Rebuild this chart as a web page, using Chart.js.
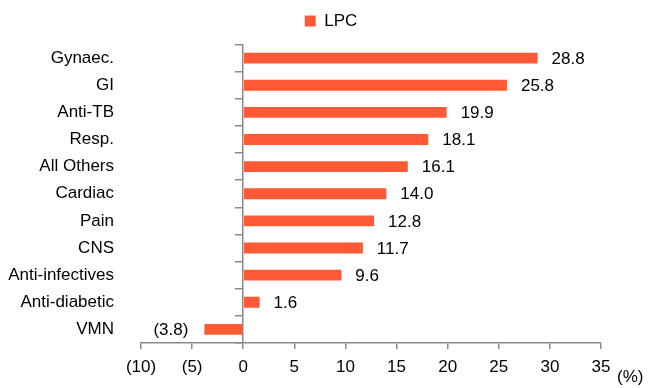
<!DOCTYPE html>
<html>
<head>
<meta charset="utf-8">
<script src="https://cdn.jsdelivr.net/npm/chart.js@4"></script>
<style>
    html, body { margin: 0; padding: 0; background: #fff; }
    #wrap { width: 662px; height: 388px; }
</style>
</head>
<body>
<div id="wrap"><canvas id="lpcChart"></canvas></div>
<script>
// Chart data
const categories = ['Gynaec.', 'GI', 'Anti-TB', 'Resp.', 'All Others', 'Cardiac', 'Pain', 'CNS', 'Anti-infectives', 'Anti-diabetic', 'VMN'];
const lpcValues = [28.8, 25.8, 19.9, 18.1, 16.1, 14.0, 12.8, 11.7, 9.6, 1.6, -3.8];
const xTicks = [-10, -5, 0, 5, 10, 15, 20, 25, 30, 35];

const axisGrey = '#8a8a8a';
const barColor = '#FF5A35';
const fontFamily = '"Liberation Sans", Arial, sans-serif';
const fontSize = 17;

function fmt(v, digits) {
    const s = Math.abs(v).toFixed(digits);
    return v < 0 ? '(' + s + ')' : s;
}

// value labels next to each bar + the (%) unit label
const labelPlugin = {
    id: 'barLabels',
    afterDatasetsDraw(chart) {
        const ctx = chart.ctx;
        const meta = chart.getDatasetMeta(0);
        ctx.save();
        ctx.font = fontSize + 'px ' + fontFamily;
        ctx.fillStyle = '#000';
        ctx.textBaseline = 'middle';
        meta.data.forEach((bar, i) => {
            const v = lpcValues[i];
            if (v >= 0) {
                ctx.textAlign = 'left';
                ctx.fillText(fmt(v, 1), bar.x + 14, bar.y + 1);
            } else {
                ctx.textAlign = 'right';
                ctx.fillText(fmt(v, 1), bar.x - 16, bar.y + 1);
            }
        });
        const area = chart.chartArea;
        ctx.textAlign = 'left';
        ctx.fillText('(%)', area.right + 16, area.bottom + 34);
        ctx.restore();
    }
};

new Chart(document.getElementById('lpcChart'), {
    type: 'bar',
    data: {
        labels: categories,
        datasets: [{
            label: 'LPC',
            data: lpcValues,
            backgroundColor: barColor,
            borderWidth: 0,
            barPercentage: 0.4,
            categoryPercentage: 1.0
        }]
    },
    options: {
        indexAxis: 'y',
        responsive: true,
        maintainAspectRatio: false,
        animation: false,
        layout: { padding: 0 },
        plugins: {
            legend: {
                display: true,
                position: 'top',
                labels: {
                    boxWidth: 11,
                    boxHeight: 11,
                    padding: 12.5,
                    color: '#000',
                    font: { family: fontFamily, size: fontSize }
                }
            },
            tooltip: { enabled: false }
        },
        scales: {
            x: {
                min: -10,
                max: 35,
                afterBuildTicks: function (scale) {
                    scale.ticks = xTicks.map(v => ({ value: v }));
                },
                afterFit: function (scale) { scale.height = 45; },
                ticks: {
                    color: '#000',
                    padding: 8,
                    font: { family: fontFamily, size: fontSize },
                    callback: function (value) { return fmt(value, 0); }
                },
                grid: {
                    drawOnChartArea: false,
                    tickLength: 6,
                    color: axisGrey,
                    lineWidth: 1.5
                },
                border: { color: axisGrey, width: 1.5 }
            },
            // empty spacer above the plot area
            xTop: {
                axis: 'x',
                position: 'top',
                min: -10,
                max: 35,
                afterFit: function (scale) { scale.height = 5; },
                ticks: { display: false },
                grid: { display: false },
                border: { display: false }
            },
            y: {
                afterFit: function (scale) { scale.width = 141; },
                ticks: {
                    color: '#000',
                    padding: 19,
                    font: { family: fontFamily, size: fontSize }
                },
                grid: { display: false },
                border: { display: false }
            },
            // empty spacer right of the plot area (room for the (%) label)
            yRight: {
                axis: 'y',
                type: 'category',
                position: 'right',
                afterFit: function (scale) { scale.width = 61; },
                ticks: { display: false },
                grid: { display: false },
                border: { display: false }
            },
            y2: {
                axis: 'y',
                type: 'category',
                position: { x: 0 },
                offset: true,
                ticks: { display: false },
                grid: {
                    offset: true,
                    drawOnChartArea: false,
                    tickLength: 7,
                    color: axisGrey,
                    lineWidth: 1.5
                },
                border: { color: axisGrey, width: 1.5 }
            }
        }
    },
    plugins: [labelPlugin]
});
</script>
</body>
</html>
